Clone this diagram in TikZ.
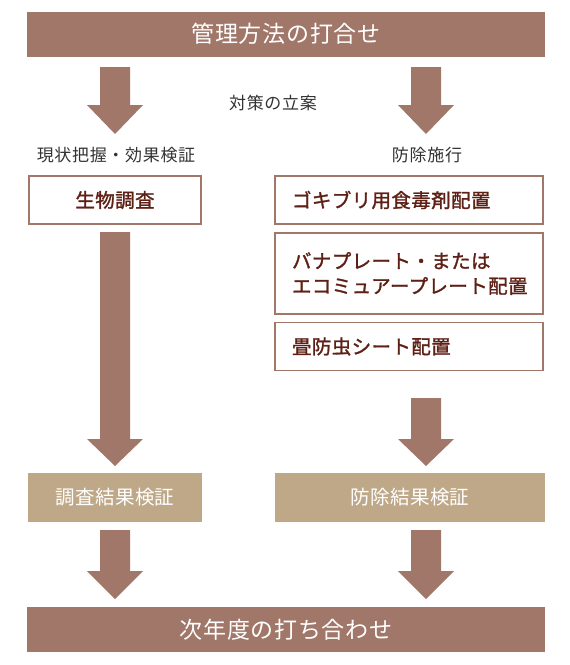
\documentclass[tikz,border=0pt]{standalone}
\usepackage{fontspec}
\setmainfont{Noto Sans CJK JP}
\newfontfamily\barfont{Noto Sans CJK JP}[LetterSpace=3]
\newfontfamily\boxfont{Noto Sans CJK JP}[LetterSpace=2, FakeBold=1.4]
\newfontfamily\tanfont{Noto Sans CJK JP}[LetterSpace=2]
\newfontfamily\labelfont{Noto Sans CJK JP}[LetterSpace=4]
\definecolor{arrowbrown}{HTML}{A07769}
\definecolor{tanfill}{HTML}{BFA888}
\definecolor{textbrown}{HTML}{5E1F14}
\definecolor{labelgray}{HTML}{333333}
\tikzset{
  bar/.style={fill=arrowbrown, draw=none, text=white, font=\barfont\fontsize{23}{26}\selectfont, inner sep=0pt},
  outlinebox/.style={draw=arrowbrown, line width=1.6pt, fill=white, text=textbrown, font=\boxfont\fontsize{19.5}{25}\selectfont, inner sep=0pt},
  tanbox/.style={fill=tanfill, draw=none, text=white, font=\tanfont\fontsize{19.5}{24}\selectfont, inner sep=0pt},
  steplabel/.style={text=labelgray, font=\labelfont\fontsize{17}{20}\selectfont, inner sep=0pt}
}
% block arrow: shaft from y1 to y2, head to y3, centered at x
\newcommand{\blockarrow}[4]{%
  \fill[arrowbrown] (#1-15,#2) -- (#1+15,#2) -- (#1+15,#3) -- (#1+28,#3) -- (#1,#4) -- (#1-28,#3) -- (#1-15,#3) -- cycle;}
\begin{document}
\begin{tikzpicture}[x=1pt,y=-1pt]
\useasboundingbox (0,0) rectangle (570,665);
\fill[white] (0,0) rectangle (570,665);
% top bar
\node[bar, minimum width=518pt, minimum height=45pt] (top) at (286,34) {管理方法の打合せ};
% arrows top
\blockarrow{115}{67}{105}{134}
\blockarrow{426}{67}{105}{134}
\node[steplabel] (plan) at (273,103) {対策の立案};
\node[steplabel] (lab1) at (116,155) {現状把握・効果検証};
\node[steplabel] (lab2) at (427,155) {防除施行};
% left box
\node[outlinebox, minimum width=172pt, minimum height=48pt] (bio) at (115,200) {生物調査};
% right boxes
\node[outlinebox, minimum width=268pt, minimum height=48pt, text width=234pt, align=left] (r1) at (409,200) {ゴキブリ用食毒剤配置};
\node[outlinebox, minimum width=268pt, minimum height=81pt, text width=234pt, align=left] (r2) at (409,273.5) {バナプレート・または\\エコミュアープレート配置};
\node[outlinebox, minimum width=268pt, minimum height=48pt, text width=234pt, align=left] (r3) at (409,346.5) {畳防虫シート配置};
% middle arrows
\blockarrow{115}{232}{439}{466}
\blockarrow{426}{398}{439}{466}
% tan boxes
\node[tanbox, minimum width=174pt, minimum height=49pt] (res1) at (115,497.5) {調査結果検証};
\node[tanbox, minimum width=270pt, minimum height=49pt] (res2) at (410,497.5) {防除結果検証};
% bottom arrows
\blockarrow{115}{530}{571}{599}
\blockarrow{426}{530}{571}{599}
% bottom bar
\node[bar, minimum width=518pt, minimum height=45pt] (bottom) at (286,629.5) {次年度の打ち合わせ};
\end{tikzpicture}
\end{document}
